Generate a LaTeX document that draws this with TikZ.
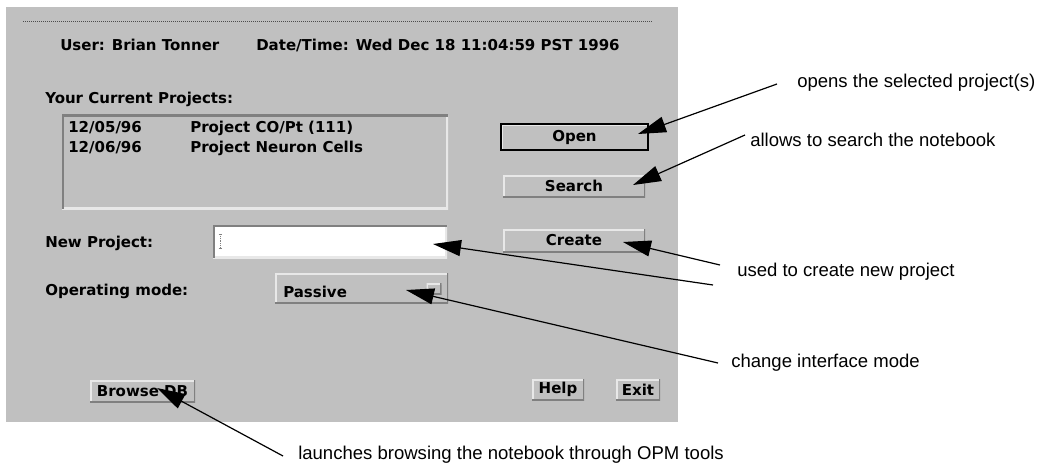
\documentclass[tikz,border=0pt]{standalone}
\usepackage{fontspec}
\usepackage{tikz}
\usetikzlibrary{arrows.meta}
\newfontfamily\guifont{DejaVu Sans}
\newfontfamily\notefont{Liberation Sans}
\definecolor{panel}{HTML}{C0C0C0}
\definecolor{hilite}{HTML}{E8E8E8}
\definecolor{darkedge}{HTML}{808080}
\newcommand{\pxu}{0.75pt}

\begin{document}
\begin{tikzpicture}[x=0.75pt,y=-0.75pt]
\tikzstyle{every node}=[inner sep=0pt]
\tikzstyle{gui}=[font=\guifont\bfseries\fontsize{11.25}{13}\selectfont]
\tikzstyle{guitext}=[gui, anchor=west]
\tikzstyle{note}=[font=\notefont\fontsize{13.9}{16}\selectfont, anchor=west]
\tikzstyle{raised}=[gui, fill=panel, path picture={
    \draw[hilite, line width=3*\pxu] (path picture bounding box.south west) |- (path picture bounding box.north east);
    \draw[darkedge, line width=3*\pxu] (path picture bounding box.south west) -| (path picture bounding box.north east);}]
\tikzstyle{sunken}=[fill=panel, path picture={
    \draw[hilite, line width=4*\pxu] (path picture bounding box.south west) -| (path picture bounding box.north east);
    \draw[darkedge, line width=4*\pxu] (path picture bounding box.south west) |- (path picture bounding box.north east);}]
\tikzstyle{callout}=[line width=0.9pt, -{Triangle[length=21pt, width=12pt]}]

\useasboundingbox (0,0) rectangle (1039,467);

% the window
\fill[panel] (6,7) rectangle (678,422);
\draw[densely dotted, line width=0.5pt, black!70] (23,21) -- (653,21);

\node[guitext] (user) at (60,45) {User: Brian Tonner};
\node[guitext] (date) at (256,45) {Date/Time: Wed Dec 18 11:04:59 PST 1996};

\node[guitext] (current) at (45,99) {Your Current Projects:};
\node[sunken, minimum width=386*\pxu, minimum height=94*\pxu] (list) at (255,162) {};
\node[guitext] (dateA) at (68,128) {12/05/96};
\node[guitext] (projA) at (190,128) {Project CO/Pt (111)};
\node[guitext] (dateB) at (68,148) {12/06/96};
\node[guitext] (projB) at (190,148) {Project Neuron Cells};

\node[raised, draw=black, line width=2pt, minimum width=147*\pxu, minimum height=26*\pxu] (open) at (574.5,137) {Open};
\node[raised, minimum width=142*\pxu, minimum height=22*\pxu] (search) at (574,186) {Search};

\node[guitext] (newproj) at (45,243) {New Project:};
\node[sunken, fill=white, minimum width=234*\pxu, minimum height=33*\pxu] (field) at (330,241.5) {};
\draw[densely dotted, darkedge] (220,234) -- (220,248);
\draw[darkedge] (218.5,234) -- (221.5,234) (218.5,248) -- (221.5,248);
\node[raised, minimum width=142*\pxu, minimum height=23*\pxu] (create) at (574,240.5) {Create};

\node[guitext] (opmode) at (45,291) {Operating mode:};
\node[raised, minimum width=173*\pxu, minimum height=30*\pxu] (mode) at (361.5,288) {};
\node[guitext] (passive) at (283,292) {Passive};
\node[raised, minimum width=15*\pxu, minimum height=11*\pxu] (modemark) at (434,288.5) {};

\node[raised, minimum width=105*\pxu, minimum height=22*\pxu] (browse) at (142.5,391) {Browse DB};
\node[raised, minimum width=52*\pxu, minimum height=21*\pxu] (help) at (558,389.5) {Help};
\node[raised, minimum width=44*\pxu, minimum height=21*\pxu] (exit) at (638,389.5) {Exit};

% the remarks
\node[note] (openNote) at (797,83) {opens the selected project(s)};
\node[note] (searchNote) at (750,140) {allows to search the notebook};
\node[note] (createNote) at (737,272) {used to create new project};
\node[note] (modeNote) at (731,363) {change interface mode};
\node[note] (browseNote) at (298,455) {launches browsing the notebook through OPM tools};

\coordinate (openFrom) at (777,84);
\coordinate (openTip) at (638,134);
\coordinate (searchFrom) at (745,135);
\coordinate (searchTip) at (633,185);
\coordinate (createFrom) at (720,265);
\coordinate (createTip) at (623,242);
\coordinate (fieldFrom) at (713,285);
\coordinate (fieldTip) at (433,244);
\coordinate (modeFrom) at (718,363);
\coordinate (modeTip) at (406,290);
\coordinate (browseFrom) at (283,456);
\coordinate (browseTip) at (157,388);

\draw[callout] (openFrom) -- (openTip);
\draw[callout] (searchFrom) -- (searchTip);
\draw[callout] (createFrom) -- (createTip);
\draw[callout] (fieldFrom) -- (fieldTip);
\draw[callout] (modeFrom) -- (modeTip);
\draw[callout] (browseFrom) -- (browseTip);
\end{tikzpicture}
\end{document}
